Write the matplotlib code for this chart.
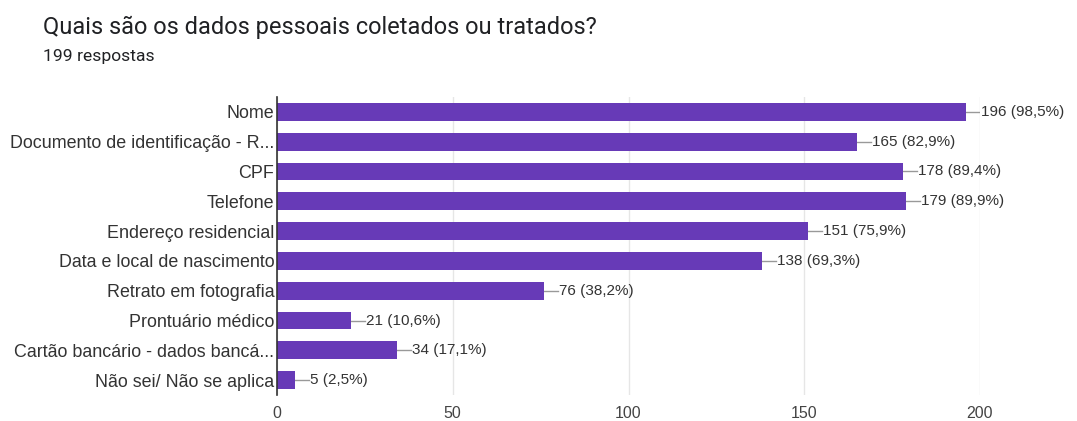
import matplotlib.pyplot as plt

# survey answers (199 respostas)
categories = [
    "Nome",
    "Documento de identificação - R...",
    "CPF",
    "Telefone",
    "Endereço residencial",
    "Data e local de nascimento",
    "Retrato em fotografia",
    "Prontuário médico",
    "Cartão bancário - dados bancá...",
    "Não sei/ Não se aplica",
]
counts = [196, 165, 178, 179, 151, 138, 76, 21, 34, 5]
total = 199
x_ticks = [0, 50, 100, 150, 200]

bar_color = "#673ab7"
label_font = ["Liberation Sans", "DejaVu Sans"]

fig = plt.figure(figsize=(10.77, 4.21), dpi=100)
ax = fig.add_axes([277 / 1077, 26 / 421, 703 / 1077, 298 / 421])

ypos = list(range(len(categories)))
ax.barh(ypos, counts, height=0.6, color=bar_color, zorder=3)

for y, n in zip(ypos, counts):
    pct = f"{n / total * 100:.1f}".replace(".", ",")
    ax.plot([n, n + 4], [y, y], color="#999999", lw=1, zorder=2)
    ax.text(n + 4.3, y, f"{n} ({pct}%)", va="center", ha="left",
            fontsize=11, color="#333333", family=label_font)

ax.set_xlim(0, 200)
ax.set_ylim(len(categories) - 0.5, -0.5)
ax.set_yticks(ypos)
ax.set_yticklabels(categories, family=label_font, fontsize=12.9, color="#333333")
ax.set_xticks(x_ticks)
ax.set_xticklabels([str(t) for t in x_ticks], family=label_font, fontsize=11.5, color="#444444")
ax.tick_params(axis="both", length=0)
ax.tick_params(axis="y", pad=2)
ax.tick_params(axis="x", pad=8)

ax.grid(axis="x", color="#e6e6e6", lw=1, zorder=0)
for side in ["top", "right", "bottom"]:
    ax.spines[side].set_visible(False)
ax.spines["left"].set_color("#333333")
ax.spines["left"].set_linewidth(1.2)
ax.spines["left"].set_zorder(4)

fig.text(43 / 1077, 1 - 27 / 421, "Quais são os dados pessoais coletados ou tratados?",
         fontsize=17, color="#202124", va="center", ha="left", family=["Roboto", "DejaVu Sans"])
fig.text(43 / 1077, 1 - 56 / 421, "199 respostas",
         fontsize=12.6, color="#202124", va="center", ha="left", family=["Roboto", "DejaVu Sans"])

fig.savefig("out.png", dpi=100)
